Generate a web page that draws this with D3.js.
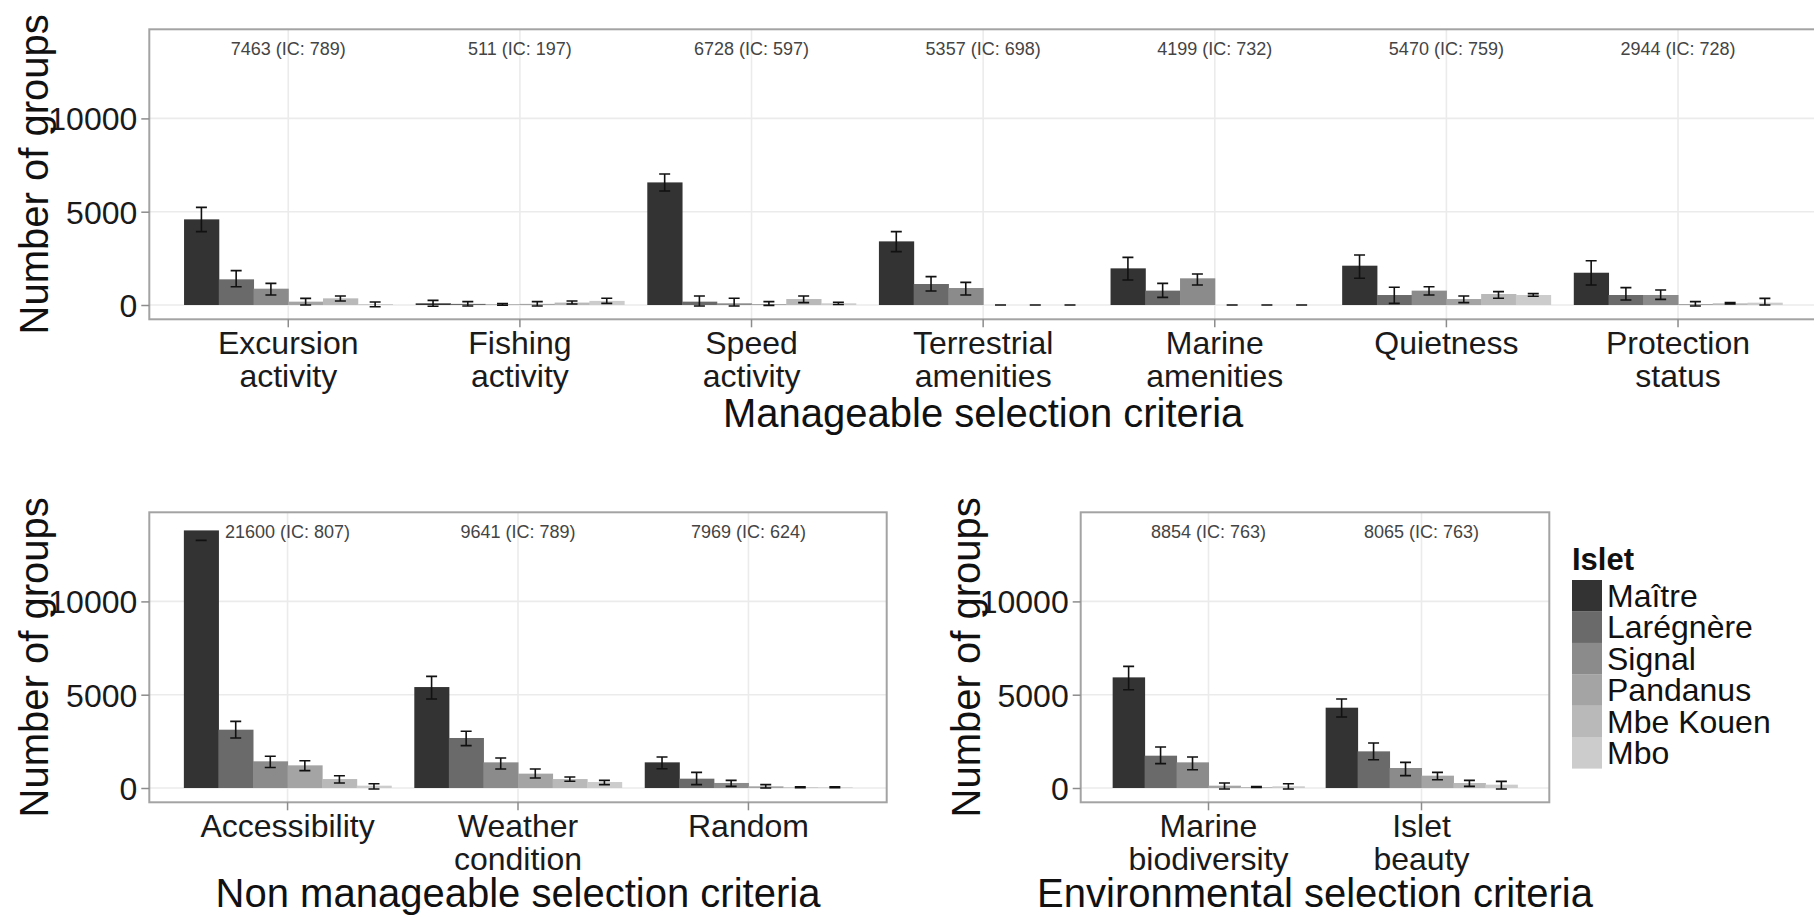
<!DOCTYPE html>
<html>
  <head>
    <meta charset="utf-8">
    <title>Number of groups by selection criterion and islet</title>
    <script src="https://d3js.org/d3.v7.min.js"></script>
    <style>
      body { margin: 0; background: #fff; }
      svg { display: block; font-family: "Liberation Sans", Arial, sans-serif; }
      .grid line { stroke: #ebebeb; stroke-width: 1.6; }
      .border { fill: none; stroke: #a3a3a3; stroke-width: 2; }
      .tick line { stroke: #8c8c8c; stroke-width: 1.5; }
      .tick text { fill: #1a1a1a; font-size: 32px; }
      .err { stroke: #111; stroke-width: 1.6; fill: none; }
      .note { fill: #444; font-size: 18px; }
      .title { fill: #111; font-size: 40px; }
    </style>
  </head>
  <body>
    <svg id="chart" width="1814" height="917"></svg>
    <script>
      // islets and their grey fills (scale_fill_grey, start .2, end .8)
      islets = ["Maître", "Larégnère", "Signal", "Pandanus", "Mbe Kouen", "Mbo"];
      greys = ["#333333", "#6a6a6a", "#8b8b8b", "#a4a4a4", "#b9b9b9", "#cccccc"];
      yTicks = [0, 5000, 10000];

      // manageable criteria
      manageCats = ["Excursion\nactivity", "Fishing\nactivity", "Speed\nactivity", "Terrestrial\namenities", "Marine\namenities", "Quietness", "Protection\nstatus"];
      manageNotes = ["7463 (IC: 789)", "511 (IC: 197)", "6728 (IC: 597)", "5357 (IC: 698)", "4199 (IC: 732)", "5470 (IC: 759)", "2944 (IC: 728)"];
      manageVal = [
        [4590, 1375, 875, 180, 357, 54],
        [90, 60, 30, 60, 130, 220],
        [6570, 180, 90, 50, 320, 90],
        [3410, 1125, 910, 0, 0, 0],
        [1964, 770, 1430, 0, 0, 0],
        [2107, 535, 770, 320, 590, 536],
        [1730, 536, 536, 54, 90, 125]
      ];
      manageLow = [
        [3930, 980, 536, 0, 214, -90],
        [-70, -50, -10, -50, 50, 90],
        [6110, -50, -50, -20, 125, 30],
        [2860, 750, 535, 0, 0, 0],
        [1340, 410, 1070, 0, 0, 0],
        [1430, 90, 535, 125, 360, 470],
        [1070, 268, 304, -54, 55, 0]
      ];
      manageHigh = [
        [5230, 1840, 1160, 357, 482, 160],
        [250, 180, 80, 180, 215, 360],
        [7020, 480, 360, 180, 480, 150],
        [3930, 1520, 1215, 0, 0, 0],
        [2550, 1160, 1660, 0, 0, 0],
        [2680, 950, 980, 480, 715, 610],
        [2375, 929, 804, 180, 125, 357]
      ];

      // non manageable criteria
      nonCats = ["Accessibility", "Weather\ncondition", "Random"];
      nonNotes = ["21600 (IC: 807)", "9641 (IC: 789)", "7969 (IC: 624)"];
      nonVal = [
        [13805, 3125, 1430, 1214, 480, 125],
        [5410, 2680, 1375, 770, 480, 320],
        [1375, 500, 270, 90, 35, 35]
      ];
      nonLow = [
        [13270, 2680, 1100, 930, 270, -50],
        [4770, 2270, 1020, 535, 360, 180],
        [1035, 180, 90, 0, 10, 10]
      ];
      nonHigh = [
        [13270, 3570, 1700, 1460, 660, 230],
        [5980, 3040, 1610, 1020, 590, 410],
        [1660, 840, 410, 180, 60, 60]
      ];

      // environmental criteria
      envCats = ["Marine\nbiodiversity", "Islet\nbeauty"];
      envNotes = ["8854 (IC: 763)", "8065 (IC: 763)"];
      envVal = [
        [5929, 1732, 1375, 125, 54, 90],
        [4304, 1964, 1071, 661, 268, 179]
      ];
      envLow = [
        [5268, 1304, 982, -54, 30, -54],
        [3804, 1518, 661, 446, 89, -54]
      ];
      envHigh = [
        [6518, 2196, 1661, 268, 80, 232],
        [4768, 2411, 1375, 839, 411, 357]
      ];

      svg = d3.select("#chart");
      fill = d3.scaleOrdinal().domain(islets).range(greys);

      function drawPanel(p) {
        g = svg.append("g");
        x = d3.scaleBand()
          .domain(p.cats)
          .range([p.left, p.right])
          .paddingInner(0)
          .paddingOuter(0.1);
        y = d3.scaleLinear()
          .domain([-766, 14775])
          .range([p.bottom, p.top]);
        step = x.step();
        inner = d3.scaleBand()
          .domain(islets)
          .range([-0.45 * step, 0.45 * step]);
        cx = function(c) { return x(c) + step / 2; };
        // grid
        grid = g.append("g").attr("class", "grid");
        grid.selectAll(".h")
            .data(yTicks)
          .enter().append("line")
            .attr("x1", p.left).attr("x2", p.right)
            .attr("y1", function(d) { return y(d); })
            .attr("y2", function(d) { return y(d); });
        grid.selectAll(".v")
            .data(p.cats)
          .enter().append("line")
            .attr("x1", cx).attr("x2", cx)
            .attr("y1", p.top).attr("y2", p.bottom);
        // bars + error bars
        rows = [];
        p.cats.forEach(function(c, i) {
          islets.forEach(function(isl, j) {
            rows.push({cat: c, islet: isl, v: p.val[i][j], lo: p.low[i][j], hi: p.high[i][j]});
          });
        });
        g.selectAll(".bar")
            .data(rows)
          .enter().append("rect")
            .attr("x", function(d) { return cx(d.cat) + inner(d.islet); })
            .attr("width", inner.bandwidth() + 0.5)
            .attr("y", function(d) { return y(Math.max(d.v, 0)); })
            .attr("height", function(d) { return Math.abs(y(0) - y(d.v)); })
            .attr("fill", function(d) { return fill(d.islet); });
        cap = 5.5;
        g.selectAll(".err")
            .data(rows)
          .enter().append("path")
            .attr("class", "err")
            .attr("d", function(d) {
              m = cx(d.cat) + inner(d.islet) + inner.bandwidth() / 2;
              return "M" + (m - cap) + "," + y(d.hi) + "H" + (m + cap) +
                "M" + m + "," + y(d.hi) + "V" + y(d.lo) +
                "M" + (m - cap) + "," + y(d.lo) + "H" + (m + cap);
            });
        // count notes
        g.selectAll(".note")
            .data(p.cats)
          .enter().append("text")
            .attr("class", "note")
            .attr("x", cx)
            .attr("y", y(13750))
            .attr("dy", "0.35em")
            .attr("text-anchor", "middle")
            .text(function(d, i) { return p.notes[i]; });
        // border
        g.append("rect")
          .attr("class", "border")
          .attr("x", p.left).attr("y", p.top)
          .attr("width", p.right - p.left).attr("height", p.bottom - p.top);
        // y axis
        ya = g.append("g")
          .attr("transform", "translate(" + p.left + ",0)")
          .call(d3.axisLeft(y).tickValues(yTicks).tickSize(8).tickPadding(4).tickFormat(d3.format("d")));
        ya.select(".domain").remove();
        ya.selectAll("text").attr("dy", "0.36em");
        // x axis
        xa = g.append("g")
          .attr("transform", "translate(0," + p.bottom + ")")
          .call(d3.axisBottom(x).tickSize(8).tickFormat(""));
        xa.select(".domain").remove();
        xa.selectAll(".tick").each(function(d) {
          t = d3.select(this).append("text")
            .attr("text-anchor", "middle")
            .attr("y", 34.5);
          d.split("\n").forEach(function(line, k) {
            t.append("tspan").attr("x", 0).attr("dy", k ? 33 : 0).text(line);
          });
        });
        // titles
        g.append("text")
          .attr("class", "title")
          .attr("text-anchor", "middle")
          .attr("x", (p.left + p.right) / 2)
          .attr("y", p.bottom + p.titleGap)
          .text(p.title);
        g.append("text")
          .attr("class", "title")
          .attr("text-anchor", "middle")
          .attr("transform", "translate(" + (p.left - 101) + "," + ((p.top + p.bottom) / 2) + ") rotate(-90)")
          .text("Number of groups");
      }

      drawPanel({cats: manageCats, notes: manageNotes, val: manageVal, low: manageLow, high: manageHigh,
        left: 149.3, right: 1817, top: 29.3, bottom: 319.3, titleGap: 107.5, title: "Manageable selection criteria"});
      drawPanel({cats: nonCats, notes: nonNotes, val: nonVal, low: nonLow, high: nonHigh,
        left: 149.3, right: 886.7, top: 512.3, bottom: 802.3, titleGap: 104.5, title: "Non manageable selection criteria"});
      drawPanel({cats: envCats, notes: envNotes, val: envVal, low: envLow, high: envHigh,
        left: 1080.7, right: 1549.3, top: 512.3, bottom: 802.3, titleGap: 104.5, title: "Environmental selection criteria"});

      // legend
      legend = svg.append("g").attr("transform", "translate(1572,580)");
      legend.append("text")
        .attr("y", -10)
        .attr("font-size", 31)
        .attr("font-weight", "bold")
        .attr("fill", "#111")
        .text("Islet");
      keys = legend.selectAll(".key")
          .data(islets)
        .enter().append("g")
          .attr("transform", function(d, i) { return "translate(0," + (i * 31.4) + ")"; });
      keys.append("rect")
        .attr("width", 30)
        .attr("height", 31.6)
        .attr("fill", function(d) { return fill(d); });
      keys.append("text")
        .attr("x", 35)
        .attr("y", 15.7)
        .attr("dy", "0.35em")
        .attr("font-size", 32)
        .attr("fill", "#111")
        .text(function(d) { return d; });
    </script>
  </body>
</html>
